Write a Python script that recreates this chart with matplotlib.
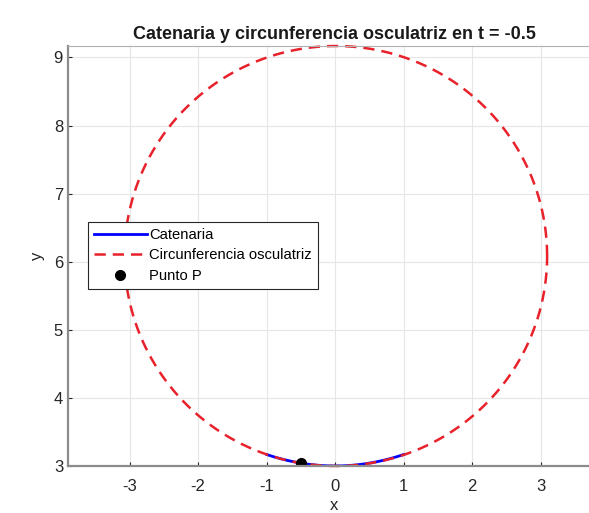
import numpy as np
import matplotlib.pyplot as plt

plt.rcParams['font.family'] = ['Liberation Sans', 'DejaVu Sans']
plt.rcParams['axes.unicode_minus'] = False

# catenaria y = a*cosh(x/a), punto de contacto en t
a = 3.0
t = -0.5
x_range = [-1.0, 1.0]
x_ticks = [-3, -2, -1, 0, 1, 2, 3]
y_ticks = [3, 4, 5, 6, 7, 8, 9]

x = np.linspace(x_range[0], x_range[1], 200)
y = a * np.cosh(x / a)

# punto P y circunferencia osculatriz
yp = a * np.cosh(t / a)
R = yp**2 / a
xc = t - a * np.sinh(t / a) * np.cosh(t / a)
yc = yp + a * np.cosh(t / a)
th = np.linspace(0, 2 * np.pi, 400)
cx = xc + R * np.cos(th)
cy = yc + R * np.sin(th)

fig = plt.figure(figsize=(5.89, 5.13), dpi=100)
ax = fig.add_axes([0.1154, 0.0916, 0.905, 0.8187])

ax.plot(x, y, color='#0000ff', lw=2, label='Catenaria')
ax.plot(cx, cy, '--', color='#e8212b', lw=1.8, dashes=(4.5, 2.8),
        label='Circunferencia osculatriz', clip_on=False)
ax.plot(t, yp, 'o', color='k', ms=7, label='Punto P')

ax.set_xlim(-3.9, 3.88)
ax.set_ylim(yc - R, yc + R)
ax.set_xticks(x_ticks)
ax.set_yticks(y_ticks)
ax.tick_params(labelsize=12, colors='#262626', length=3, direction='in', width=0.8)
ax.tick_params(axis='x', pad=9)
for lab in ax.get_xticklabels() + ax.get_yticklabels():
    lab.set_color('#262626')
ax.grid(True, color='#e6e6e6', lw=0.8)
ax.set_axisbelow(True)
for s in ['left', 'bottom']:
    ax.spines[s].set_color('#8c8c8c')
    ax.spines[s].set_linewidth(1.6)
for s in ['top', 'right']:
    ax.spines[s].set_color('#b0b0b0')
    ax.spines[s].set_linewidth(0.8)

ax.set_title('Catenaria y circunferencia osculatriz en t = -0.5',
             fontsize=13, fontweight='bold', color='#1a1a1a', pad=5)
ax.set_xlabel('x', fontsize=12, color='#262626', labelpad=3)
ax.set_ylabel('y', fontsize=12, color='#262626', labelpad=6)

leg = ax.legend(loc='upper left', bbox_to_anchor=(0.149, 0.567),
                bbox_transform=fig.transFigure, fontsize=10.6,
                fancybox=False, framealpha=1, edgecolor='#262626',
                borderpad=0.42, labelspacing=0.42, handlelength=3.6,
                handletextpad=0.15, borderaxespad=0)
leg.get_frame().set_linewidth(0.8)

fig.savefig('out.png', dpi=100)
